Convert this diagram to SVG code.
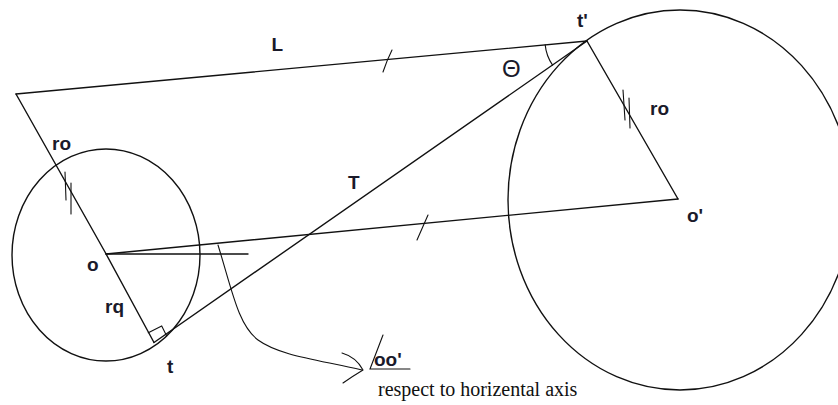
<svg xmlns="http://www.w3.org/2000/svg" width="838" height="405" viewBox="0 0 838 405">
<style>
.ln{fill:none;stroke:#111;stroke-width:1.4;stroke-linecap:round;stroke-linejoin:round}
.thin{fill:none;stroke:#111;stroke-width:1.1;stroke-linecap:round}
.lb{font-family:"Liberation Sans",Arial,sans-serif;font-size:19px;font-weight:bold;fill:#1a1a2a}
.sf{font-family:"Liberation Serif","Times New Roman",serif;font-size:20px;fill:#111}
</style>
<rect width="838" height="405" fill="#fff"/>
<g id="circles">
<ellipse id="circle-o" class="ln" cx="106" cy="255" rx="94" ry="106"/>
<ellipse id="circle-o2" class="ln" cx="680" cy="200" rx="172" ry="190"/>
</g>
<g id="connectors">
<path class="ln" d="M16,94 L587,41"/>
<path class="ln" d="M16,94 L105,252 L154,342.5"/>
<path class="ln" d="M154,342.5 L587,41"/>
<path class="ln" d="M587,41 L678,199"/>
<path class="ln" d="M106,254 L678,199"/>
<path class="ln" d="M106,254 L248,254"/>
<path class="thin" d="M148.3,332.7 L161.7,326 L166.7,336"/>
<path class="thin" d="M545.2,44.9 A42,42 0 0 0 552.6,65.1"/>
<path class="thin" d="M392,50 Q387,60 383,72"/>
<path class="thin" d="M428,215 L417,240"/>
<path class="thin" d="M65,172 L66,200 M71,183 L71,214"/>
<path class="thin" d="M623,90 L625,120 M629,98 L630,128"/>
<path class="thin" d="M218,245 C232,290 238,325 258,340 C280,356 320,360 362,370"/>
<path class="thin" d="M342,353 Q356,357 363,370 M343,383 Q353,376 363,370"/>
<path class="thin" d="M383,335 L370,369 L410,369"/>
</g>
<g id="labels">
<text class="lb" x="271.5" y="51">L</text>
<text class="lb" x="52" y="150">ro</text>
<text class="lb" x="348" y="189">T</text>
<text class="lb" x="577" y="27">t'</text>
<text class="lb" x="650" y="115">ro</text>
<text class="lb" x="687" y="222">o'</text>
<text class="lb" x="87" y="271">o</text>
<text class="lb" x="105" y="313">rq</text>
<text class="lb" x="167" y="373">t</text>
<text class="lb" x="502" y="77" style="font-size:24px;font-weight:normal">Θ</text>
<text class="lb" x="374" y="366">oo'</text>
<text class="sf" x="378" y="396">respect to horizental axis</text>
</g>
</svg>
